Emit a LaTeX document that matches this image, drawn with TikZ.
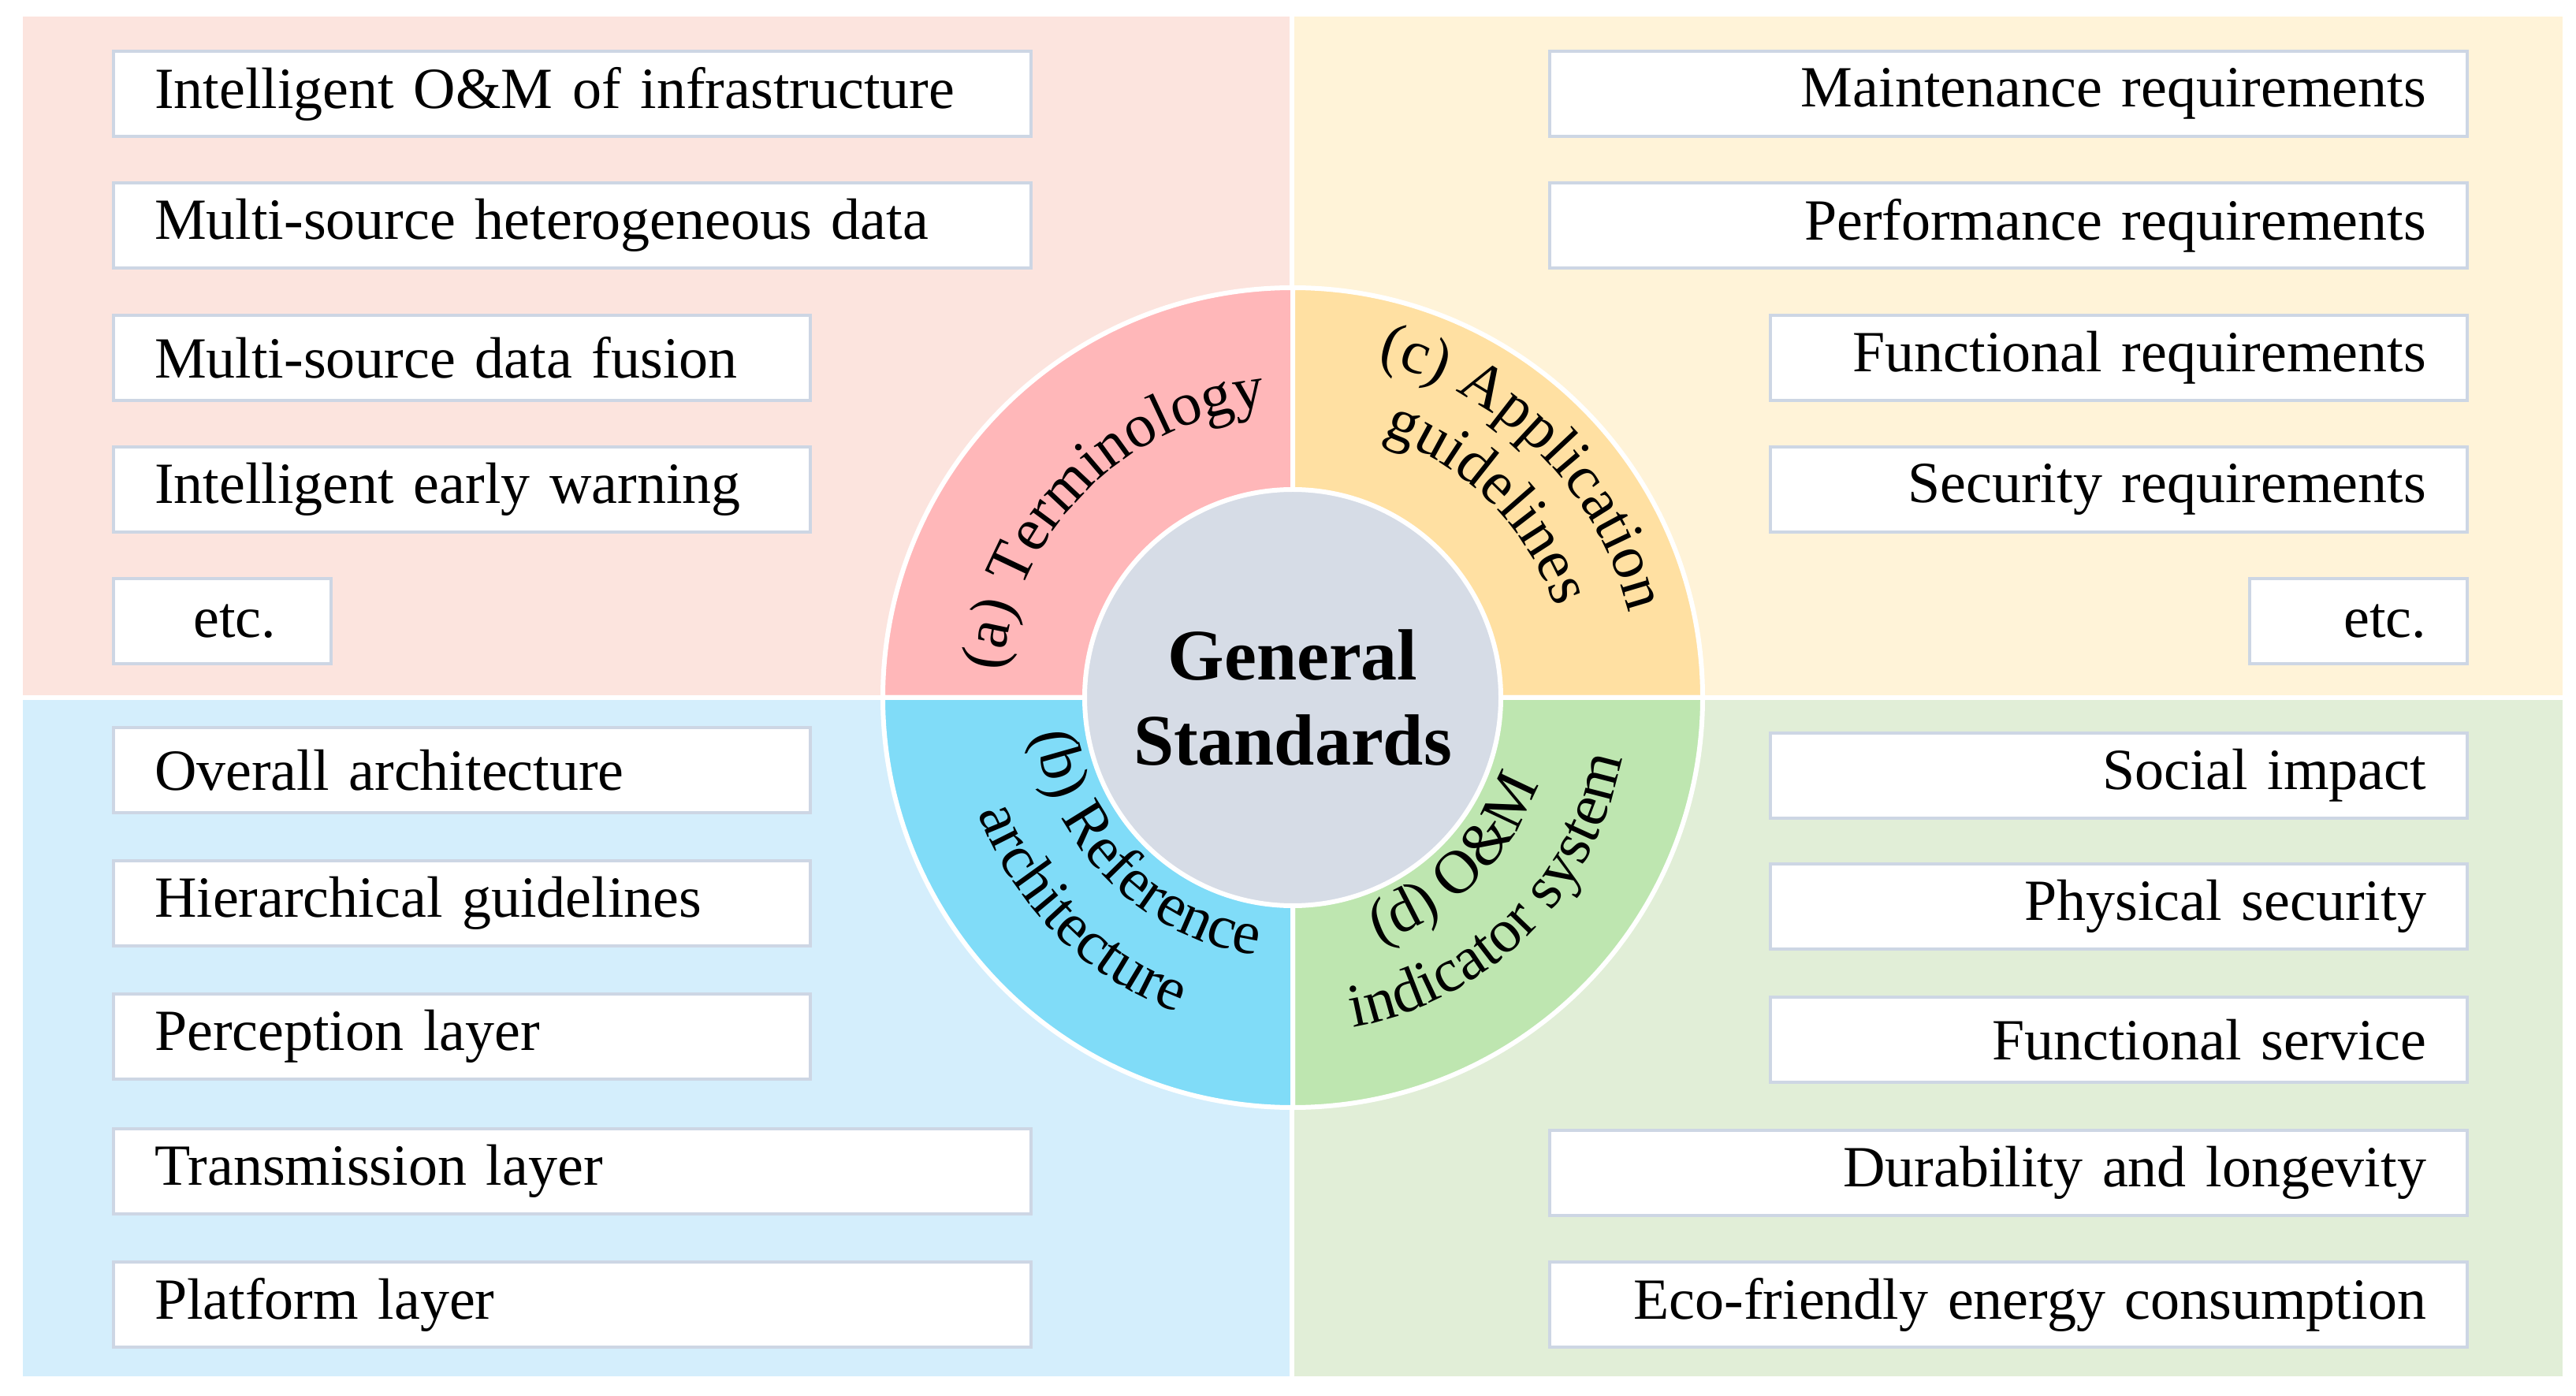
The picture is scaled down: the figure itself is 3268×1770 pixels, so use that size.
\documentclass[tikz,border=0pt]{standalone}
\usepackage{fontspec}
\setmainfont{Liberation Serif}
\usetikzlibrary{decorations.text,calc}
\definecolor{bgA}{RGB}{252,228,222}
\definecolor{bgB}{RGB}{212,238,252}
\definecolor{bgC}{RGB}{255,243,216}
\definecolor{bgD}{RGB}{225,238,215}
\definecolor{ringA}{RGB}{255,183,185}
\definecolor{ringB}{RGB}{128,220,248}
\definecolor{ringC}{RGB}{255,224,162}
\definecolor{ringD}{RGB}{190,230,176}
\definecolor{hub}{RGB}{214,220,230}
\definecolor{boxline}{RGB}{205,214,228}
\newcommand{\ringfont}{\fontsize{19.5}{21}\selectfont}
\tikzset{
  box/.style={draw=boxline, fill=white, line width=1pt, minimum height=27pt,
    inner ysep=0pt, inner xsep=13pt, font=\fontsize{18.5}{20}\selectfont},
  lbox/.style={box, anchor=west, align=left, text width=#1},
  rbox/.style={box, anchor=east, align=right, text width=#1},
  sector/.style={draw=white, line width=1.5pt},
  ringtext/.style={decorate, decoration={text along path, text align=center, text={|\ringfont|#1}}}
}
\begin{document}
\begin{tikzpicture}[x=0.25pt,y=0.25pt]
    \useasboundingbox (0,0) rectangle (3268,1770);
    % background panels
    \fill[bgA] (29,888) rectangle (1636,1749);
    \fill[bgC] (1642,888) rectangle (3251,1749);
    \fill[bgB] (29,24) rectangle (1636,882);
    \fill[bgD] (1642,24) rectangle (3251,882);
    % ring
    \coordinate (c) at (1640,885);
    \filldraw[fill=ringA, sector] (c) -- ++(180:520) arc (180:90:520) -- cycle;
    \filldraw[fill=ringC, sector] (c) -- ++(90:520) arc (90:0:520) -- cycle;
    \filldraw[fill=ringD, sector] (c) -- ++(0:520) arc (360:270:520) -- cycle;
    \filldraw[fill=ringB, sector] (c) -- ++(270:520) arc (270:180:520) -- cycle;
    \node[circle, fill=hub, draw=white, line width=1.5pt, minimum size=132pt,
      align=center, font=\fontsize{23}{27}\selectfont\bfseries] (hub) at (c) {General\\Standards};
    % ring labels
    \path[ringtext={(a) Terminology}] ($(c)+(180:370)$) arc (180:90:370);
    \path[ringtext={(c) Application}] ($(c)+(95:440)$) arc (95:-5:440);
    \path[ringtext={guidelines}] ($(c)+(90:352)$) arc (90:0:352);
    \path[ringtext={(b) Reference}] ($(c)+(180:330)$) arc (180:270:330);
    \path[ringtext={architecture}] ($(c)+(180:425)$) arc (180:270:425);
    \path[ringtext={(d) O{\&}M}] ($(c)+(270:330)$) arc (270:360:330);
    \path[ringtext={indicator system}] ($(c)+(265:425)$) arc (265:365:425);
    % (a) boxes
    \node[lbox=265pt] (a1) at (142,1651) {Intelligent O\&M of infrastructure};
    \node[lbox=265pt] (a2) at (142,1484) {Multi-source heterogeneous data};
    \node[lbox=195pt] (a3) at (142,1316) {Multi-source data fusion};
    \node[lbox=195pt] (a4) at (142,1149) {Intelligent early warning};
    \node[lbox=43pt] (a5) at (142,982) {\ \ etc.};
    % (c) boxes
    \node[rbox=265pt] (c1) at (3132,1651) {Maintenance requirements};
    \node[rbox=265pt] (c2) at (3132,1484) {Performance requirements};
    \node[rbox=195pt] (c3) at (3132,1316) {Functional requirements};
    \node[rbox=195pt] (c4) at (3132,1149) {Security requirements};
    \node[rbox=43pt] (c5) at (3132,982) {etc.};
    % (b) boxes
    \node[lbox=195pt] (b1) at (142,793) {Overall architecture};
    \node[lbox=195pt] (b2) at (142,624) {Hierarchical guidelines};
    \node[lbox=195pt] (b3) at (142,455) {Perception layer};
    \node[lbox=265pt] (b4) at (142,284) {Transmission layer};
    \node[lbox=265pt] (b5) at (142,115) {Platform layer};
    % (d) boxes
    \node[rbox=195pt] (d1) at (3132,786) {Social impact};
    \node[rbox=195pt] (d2) at (3132,620) {Physical security};
    \node[rbox=195pt] (d3) at (3132,451) {Functional service};
    \node[rbox=265pt] (d4) at (3132,282) {Durability and longevity};
    \node[rbox=265pt] (d5) at (3132,115) {Eco-friendly energy consumption};
\end{tikzpicture}
\end{document}
